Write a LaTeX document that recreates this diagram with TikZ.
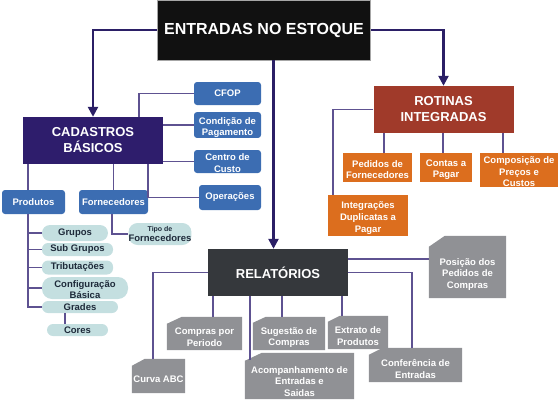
\documentclass[tikz,border=0pt]{standalone}
\usepackage{fontspec}
\setmainfont{Liberation Sans}
\usetikzlibrary{arrows.meta,calc}
\pgfdeclarelayer{background}
\pgfsetlayers{background,main}
\definecolor{topc}{HTML}{111111}
\definecolor{indigoc}{HTML}{2E1D6C}
\definecolor{bluec}{HTML}{3C6DB2}
\definecolor{tealc}{HTML}{C4DFE0}
\definecolor{tealtext}{HTML}{1E2A3A}
\definecolor{redc}{HTML}{A03A2A}
\definecolor{orangec}{HTML}{DC6E1E}
\definecolor{darkgreyc}{HTML}{35383C}
\definecolor{greyc}{HTML}{909195}
\definecolor{arrowc}{HTML}{2B1F66}
\definecolor{linec}{HTML}{5E5291}
\newcommand{\chamf}[3]{\fill[greyc] ($(#1.north west)+(0,#3)$) -- ($(#1.north west)+(#2,0)$) -- (#1.north east) -- (#1.south east) -- (#1.south west) -- cycle;}
\tikzset{
  every node/.style={align=center, inner sep=0pt, text=white},
  smallfont/.style={font=\fontsize{9.5}{11.7}\selectfont\bfseries},
  topbox/.style={fill=topc, draw=gray!70, line width=0.6pt, font=\fontsize{16}{19}\selectfont\bfseries},
  mainbox/.style={minimum width=140pt, minimum height=47pt, font=\fontsize{13}{16}\selectfont\bfseries},
  bluebox/.style={smallfont, fill=bluec, rounded corners=3pt},
  tealbox/.style={smallfont, fill=tealc, text=tealtext, rounded corners=6pt},
  orangebox/.style={smallfont, fill=orangec},
  greybox/.style={smallfont, fill=none},
  mainarrow/.style={draw=arrowc, line width=2.4pt, -{Triangle[width=10pt,length=10pt]}},
  conn/.style={draw=linec, line width=1.4pt}
}
\begin{document}
\begin{tikzpicture}[x=1pt,y=-1pt]
\useasboundingbox (0,0) rectangle (560,400);

% main boxes
\node[topbox, minimum width=213pt, minimum height=60pt] (top) at (264,30) {ENTRADAS NO ESTOQUE};
\node[mainbox, fill=indigoc] (cad) at (93,140.5) {CADASTROS\\BÁSICOS};
\node[mainbox, fill=redc] (rot) at (443.5,109.5) {ROTINAS\\INTEGRADAS};
\node[mainbox, fill=darkgreyc] (rel) at (278,272.5) {RELATÓRIOS};

% blue boxes
\node[bluebox, minimum width=67pt, minimum height=23pt] (cfop) at (227.5,93.5) {CFOP};
\node[bluebox, minimum width=67pt, minimum height=24pt, text height=23.9pt] (cond) at (227.5,125) {Condição de\\Pagamento};
\node[bluebox, minimum width=67pt, minimum height=23pt, text height=21.9pt] (centro) at (227.5,161.5) {Centro de\\Custo};
\node[bluebox, minimum width=62pt, minimum height=25pt] (oper) at (230,197.5) {Operações};
\node[bluebox, minimum width=63pt, minimum height=24pt] (prod) at (33.5,202) {Produtos};
\node[bluebox, minimum width=69pt, minimum height=24pt] (forn) at (113.5,202) {Fornecedores};

% teal items
\node[tealbox, minimum width=60pt, minimum height=22pt, rounded corners=9pt] (tipo) at (160,234) {{\fontsize{7}{8}\selectfont Tipo de}\\[-1pt]Fornecedores};
\node[tealbox, minimum width=66pt, minimum height=16pt, rounded corners=8pt] (grupos) at (75,233) {Grupos};
\node[tealbox, minimum width=71pt, minimum height=13pt] (sub) at (77.5,249.5) {Sub Grupos};
\node[tealbox, minimum width=71pt, minimum height=14pt] (trib) at (77.5,267.5) {Tributações};
\node[tealbox, minimum width=86pt, minimum height=21pt, rounded corners=10pt, text height=21.9pt] (config) at (85,288) {Configuração\\Básica};
\node[tealbox, minimum width=76pt, minimum height=12pt] (grades) at (80,307) {Grades};
\node[tealbox, minimum width=61pt, minimum height=12pt] (cores) at (77.5,330) {Cores};

% orange boxes
\node[orangebox, minimum width=69pt, minimum height=29pt, text height=22.9pt] (ped) at (377.5,167.5) {Pedidos de\\Fornecedores};
\node[orangebox, minimum width=52pt, minimum height=29pt, text height=22.5pt] (contas) at (446,167.5) {Contas a\\Pagar};
\node[orangebox, minimum width=78pt, minimum height=34pt, text height=33.9pt] (comp) at (519,170) {Composição de\\Preços e\\Custos};
\node[orangebox, minimum width=80pt, minimum height=41pt, text height=35.3pt] (integ) at (368,215.5) {Integrações\\Duplicatas a\\Pagar};

% grey report boxes
\node[greybox, minimum width=77pt, minimum height=62pt, text height=44.9pt] (pos) at (467.5,267) {Posição dos\\Pedidos de\\Compras};
\node[greybox, minimum width=93pt, minimum height=34pt, text height=26.9pt] (conf) at (415.5,365) {Conferência de\\Entradas};
\node[greybox, minimum width=60pt, minimum height=33pt, text height=25.9pt] (ext) at (358,332.5) {Extrato de\\Produtos};
\node[greybox, minimum width=72pt, minimum height=33pt, text height=26.9pt] (sug) at (289,333.5) {Sugestão de\\Compras};
\node[greybox, minimum width=75pt, minimum height=33pt, text height=25.9pt] (cpp) at (204.5,333.5) {Compras por\\Periodo};
\node[greybox, minimum width=109pt, minimum height=46pt, text height=41.3pt] (acomp) at (299.5,376) {Acompanhamento de\\Entradas e\\Saidas};
\node[greybox, minimum width=53pt, minimum height=34pt, text height=12.9pt] (curva) at (158.5,376) {Curva ABC};

\begin{pgfonlayer}{background}
\chamf{pos}{16}{11}
\chamf{conf}{14}{7}
\chamf{ext}{12}{6}
\chamf{sug}{13}{6}
\chamf{cpp}{15}{7}
\chamf{acomp}{17}{8}
\chamf{curva}{13}{7}
\end{pgfonlayer}

% main arrows
\draw[mainarrow] (top.west) -| (cad.north);
\draw[mainarrow] (top.east) -| (rot.north);
\draw[mainarrow] ([xshift=9.5pt]top.south) -- ([xshift=9.5pt]top.south |- rel.north);

% cadastros connectors
\draw[conn] ([xshift=46pt]cad.north) |- (cfop.west);
\draw[conn] (cond.west -| cad.east) -- (cond.west);
\draw[conn] (centro.west -| cad.east) -- (centro.west);
\draw[conn] ([xshift=55pt]cad.south) |- (oper.west);
\draw[conn] ([xshift=-65pt]cad.south) -- ([xshift=-65pt]cad.south |- prod.north);
\draw[conn] (forn.north |- cad.south) -- (forn.north);
\draw[conn] ([xshift=-1.5pt]forn.south) |- (tipo.west);
\coordinate (pv) at (28,0);
\draw[conn] (pv |- prod.south) |- (grades.west);
\draw[conn] (pv |- grupos.west) -- (grupos.west);
\draw[conn] (pv |- sub.west) -- (sub.west);
\draw[conn] (pv |- trib.west) -- (trib.west);
\draw[conn] (pv |- config.west) -- (config.west);
\draw[conn] ([xshift=-12.5pt]cores.north) -- ([xshift=-12.5pt]cores.north |- grades.south);

% rotinas connectors
\draw[conn] ([xshift=6.5pt]ped.north |- rot.south) -- ([xshift=6.5pt]ped.north);
\draw[conn] ([xshift=-3pt]contas.north |- rot.south) -- ([xshift=-3pt]contas.north);
\draw[conn] ([xshift=-16pt]comp.north |- rot.south) -- ([xshift=-16pt]comp.north);
\draw[conn] (rot.west) -| ([xshift=-35pt]integ.north);

% relatorios connectors
\draw[conn] ([yshift=8pt]pos.west -| rel.east) -- ([yshift=8pt]pos.west);
\draw[conn] (rel.east) -| ([xshift=-3.5pt]conf.north);
\draw[conn] ([xshift=-16pt]ext.north |- rel.south) -- ([xshift=-16pt]ext.north);
\draw[conn] ([xshift=-7pt]sug.north |- rel.south) -- ([xshift=-7pt]sug.north);
\draw[conn] ([xshift=8.5pt]cpp.north |- rel.south) -- ([xshift=8.5pt]cpp.north);
\coordinate (acompin) at ($(acomp.north west)+(5,7)$);
\draw[conn] (acompin |- rel.south) -- (acompin);
\draw[conn] (rel.west) -| ([xshift=-5.5pt]curva.north);
\end{tikzpicture}
\end{document}
